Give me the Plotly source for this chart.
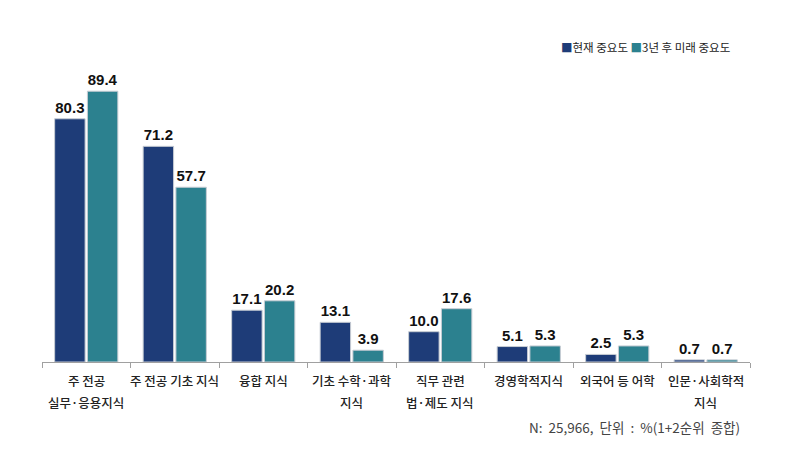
import plotly.graph_objects as go

categories = ["주 전공<br>실무·응용지식", "주 전공 기초 지식", "융합 지식", "기초 수학·과학<br>지식",
              "직무 관련<br>법·제도 지식", "경영학적지식", "외국어 등 어학", "인문·사회학적<br>지식"]
current = [80.3, 71.2, 17.1, 13.1, 10.0, 5.1, 2.5, 0.7]
future = [89.4, 57.7, 20.2, 3.9, 17.6, 5.3, 5.3, 0.7]
series_names = ["현재 중요도", "3년 후 미래 중요도"]
note = "N:  25,966,  단위  :  %(1+2순위  종합)"

colors = ["#1E3C78", "#2C818F"]
font_fam = "Liberation Sans, Noto Sans CJK KR, sans-serif"
kfont = "Noto Sans CJK KR, sans-serif"
kfont_med = "Noto Sans CJK KR Medium, Noto Sans CJK KR, sans-serif"

# page body has an 8px margin: figure coords = reference coords - 8
OFF = 8
plot_l, plot_r, plot_t, plot_b = 42 - OFF, 750 - OFF, 70 - OFF, 362 - OFF
W, H = 804, 462
pw, ph = plot_r - plot_l, plot_b - plot_t

fig = go.Figure()
for name, vals, c in zip(series_names, [current, future], colors):
    fig.add_trace(go.Bar(
        x=categories, y=vals, name=name,
        marker=dict(color=c, line=dict(color="#c8cdd4", width=1)),
        text=[f"{v:.1f}" for v in vals], textposition="outside",
        textfont=dict(family=font_fam, size=15, color="#111111", weight="bold"),
        cliponaxis=False, textangle=0,
    ))

fig.update_layout(
    width=W, height=H,
    margin=dict(l=plot_l, r=W - plot_r, t=plot_t, b=H - plot_b, autoexpand=False),
    paper_bgcolor="white", plot_bgcolor="white",
    barmode="group", bargap=0.26, bargroupgap=0.07,
    font=dict(family=kfont, size=12, color="#222222"),
    showlegend=False,
)
fig.update_xaxes(showline=True, linecolor="#a0a0a0", linewidth=1,
                 ticks="outside", tickson="boundaries", ticklen=5, tickcolor="#a0a0a0",
                 showticklabels=False, automargin=False, showgrid=False)
fig.update_yaxes(range=[0, 96.4], visible=False, showgrid=False)

# category labels, one annotation per line for wider line spacing
for cat in categories:
    for i, line in enumerate(cat.split("<br>")):
        fig.add_annotation(text=line, x=cat, xref="x", yref="paper", y=0,
                           yshift=-(18 + 22 * i), xanchor="center", yanchor="middle",
                           showarrow=False,
                           font=dict(family=kfont_med, size=12.5, color="#222222"))

legend_text = (f"<span style='color:{colors[0]}'>■</span>{series_names[0]} "
               f"<span style='color:{colors[1]}'>■</span>{series_names[1]}")
fig.add_annotation(text=legend_text, xref="paper", yref="paper",
                   x=(732 - OFF - plot_l) / pw, y=1 + (plot_t - (47 - OFF)) / ph,
                   xanchor="right", yanchor="middle", showarrow=False,
                   font=dict(family=kfont, size=11.5, color="#222222"))

fig.add_annotation(text=note, xref="paper", yref="paper",
                   x=(742 - OFF - plot_l) / pw, y=-((427 - OFF) - plot_b) / ph,
                   xanchor="right", yanchor="middle", showarrow=False,
                   font=dict(family=kfont, size=13.5, color="#444444"))

fig.write_html("out.html")
